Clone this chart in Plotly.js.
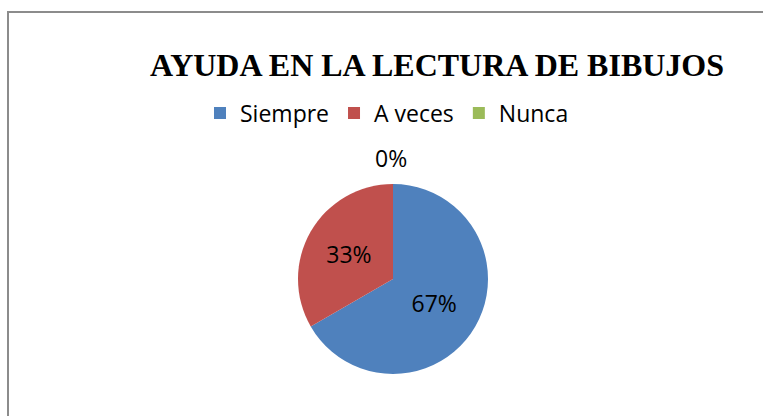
<!DOCTYPE html>
<html>
<head>
<meta charset="utf-8">
<script src="https://cdn.plot.ly/plotly-3.0.1.min.js"></script>
<style>
html,body{margin:0;padding:0;background:#fff;overflow:hidden;}
#wrap{position:relative;width:763px;height:416px;overflow:hidden;}
#chart{width:763px;height:416px;}
#frame{position:absolute;left:7px;top:11px;width:800px;height:450px;
  border-left:2px solid #8C8C8C;border-top:2px solid #8C8C8C;pointer-events:none;}
</style>
</head>
<body>
<div id="wrap">
<div id="chart"></div>
<div id="frame"></div>
</div>
<script>
var categories = ["Siempre", "A veces", "Nunca"];
var values = [2, 1, 0];
var colors = ["#4F81BD", "#C0504D", "#9BBB59"];
var chartTitle = "AYUDA EN LA LECTURA DE BIBUJOS";

var W = 763, H = 416;
var sans = "Open Sans, Calibri, sans-serif";
var total = values.reduce(function (a, b) { return a + b; }, 0);

var pieX = [298 / W, 488 / W];
var pieY = [42 / H, 232 / H];

var trace = {
  type: "pie",
  labels: categories,
  values: values,
  sort: false,
  direction: "clockwise",
  rotation: 0,
  marker: {colors: colors, line: {width: 0}},
  textinfo: "percent",
  texttemplate: "%{percent:.0%}",
  textposition: values.map(function (v) { return v > 0 ? "inside" : "none"; }),
  insidetextorientation: "horizontal",
  insidetextfont: {family: sans, size: 23, color: "#000"},
  hoverinfo: "label+percent",
  domain: {x: pieX, y: pieY},
  showlegend: true
};

// label for zero-valued slices (Plotly draws no slice for them)
var zeroAnnotations = [];
values.forEach(function (v, i) {
  if (v === 0) {
    zeroAnnotations.push({
      xref: "paper", yref: "paper",
      x: (pieX[0] + pieX[1]) / 2 - 2 / W, y: pieY[1] + 8 / H,
      xanchor: "center", yanchor: "bottom",
      text: Math.round(v / total * 100) + "%",
      showarrow: false,
      font: {family: sans, size: 23, color: "#000"}
    });
  }
});

var layout = {
  width: W,
  height: H,
  margin: {l: 0, r: 0, t: 0, b: 0},
  paper_bgcolor: "#fff",
  plot_bgcolor: "#fff",
  title: {
    text: "<b>" + chartTitle + "</b>",
    font: {family: "Liberation Serif, Times New Roman, serif", size: 32, color: "#000"},
    xref: "container", yref: "container",
    x: 437 / W, xanchor: "center",
    y: 1 - 65 / H, yanchor: "middle"
  },
  legend: {
    orientation: "h",
    x: 387 / W, xanchor: "center",
    y: 1 - 113 / H, yanchor: "middle",
    font: {family: sans, size: 23, color: "#000"},
    itemwidth: 30,
    traceorder: "normal"
  },
  annotations: zeroAnnotations
};

Plotly.newPlot("chart", [trace], layout, {displayModeBar: false, staticPlot: true});
</script>
</body>
</html>
